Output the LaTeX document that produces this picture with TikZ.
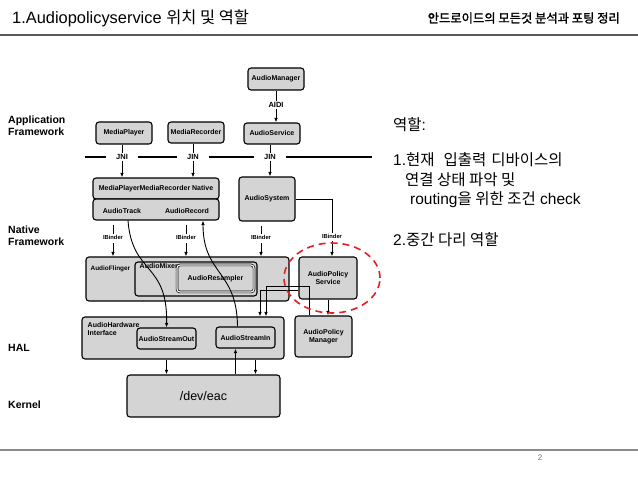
\documentclass[tikz,border=0pt]{standalone}
\usepackage{fontspec}
\setmainfont{Liberation Sans}
\newfontfamily\krfont{Noto Sans CJK KR}
\newfontfamily\krbold{Noto Sans CJK KR}[FakeBold=1.6]
\usetikzlibrary{arrows.meta}
\definecolor{boxgray}{RGB}{212,212,212}
\definecolor{ringred}{RGB}{226,32,38}
\definecolor{rulegray}{RGB}{90,90,90}
\tikzset{
  blk/.style={draw, line width=1.1pt, rounded corners=3pt, fill=boxgray, inner sep=1pt, align=center,
    font=\fontsize{7}{7.8}\selectfont\bfseries},
  inlbl/.style={inner sep=0.5pt, align=left, font=\fontsize{7}{7.8}\selectfont\bfseries},
  tag/.style={inner sep=1pt, font=\fontsize{7.5}{8}\selectfont\bfseries},
  ibtag/.style={inner sep=1pt, font=\fontsize{5.8}{6}\selectfont\bfseries},
  arr/.style={-{Latex[length=4.5pt,width=3.5pt]}, line width=0.9pt},
  wire/.style={line width=0.9pt},
  bar/.style={line width=1.4pt},
  layer/.style={anchor=west, inner sep=0pt, align=left, font=\fontsize{10.5}{12}\selectfont\bfseries},
  note/.style={anchor=west, inner sep=0pt, font=\fontsize{15.5}{18}\selectfont},
}
\begin{document}
\begin{tikzpicture}[x=1pt, y=-1pt]
\useasboundingbox[fill=white] (0,0) rectangle (638,478);

% header and footer
\node (title) [anchor=west, inner sep=0pt, font=\fontsize{16.4}{19}\selectfont] at (12,18) {1.Audiopolicyservice {\krfont 위치 및 역할}};
\node (book) [anchor=east, inner sep=0pt, font=\krbold\fontsize{12.3}{14}\selectfont] at (620,18) {안드로이드의 모든것 분석과 포팅 정리};
\draw[rulegray, line width=1.5pt] (0,35) -- (638,35);
\draw[black!45, line width=1.5pt] (0,450) -- (638,450);
\node (page) [inner sep=0pt, text=black!55, font=\fontsize{8}{9}\selectfont] at (540,458) {2};

% layers
\node (app) [layer] at (8,126) {Application\\Framework};
\node (nat) [layer] at (8,236) {Native\\Framework};
\node (hal) [layer] at (8,348) {HAL};
\node (ker) [layer] at (8,405) {Kernel};

% java side
\node (mgr) [blk, minimum width=56pt, minimum height=22pt] at (276,79) {AudioManager};
\node (aidi) [tag] at (276,105) {AIDI};
\node (svc) [blk, minimum width=56pt, minimum height=21pt] at (272,133.5) {AudioService};
\node (player) [blk, minimum width=56pt, minimum height=22pt] at (124,133) {MediaPlayer};
\node (recorder) [blk, minimum width=56pt, minimum height=21pt] at (196,132.5) {MediaRecorder};

\draw[wire] (mgr.south) -- (aidi.north);
\draw[arr] (aidi.south) -- (aidi.south |- svc.north);

% jni bar
\coordinate (barL) at (85,157);
\coordinate (barR) at (372,157);
\node (jni) [tag] at (122,157) {JNI};
\node (jin1) [tag] at (193,157) {JIN};
\node (jin2) [tag] at (270,157) {JIN};
\draw[bar] (barL) -- ([xshift=-9pt]jni.west);
\draw[bar] ([xshift=9pt]jni.east) -- ([xshift=-9pt]jin1.west);
\draw[bar] ([xshift=9pt]jin1.east) -- ([xshift=-9pt]jin2.west);
\draw[bar] ([xshift=9pt]jin2.east) -- (barR);

% native side
\node (native) [blk, minimum width=126pt, minimum height=21pt] at (156,188.5) {MediaPlayerMediaRecorder Native};
\node (trk) [blk, minimum width=126pt, minimum height=21pt] at (156,209.5) {};
\node (tracklbl) [inlbl] at (122,211) {AudioTrack};
\node (reclbl) [inlbl] at (187,211) {AudioRecord};
\node (asys) [blk, minimum width=56pt, minimum height=44pt] at (267,199) {AudioSystem};

\draw[wire] (jni.north |- player.south) -- (jni.north);
\draw[wire] (jin1.north |- recorder.south) -- (jin1.north);
\draw[wire] (jin2.north |- svc.south) -- (jin2.north);
\draw[arr] (jni.south) -- (jni.south |- native.north);
\draw[arr] (jin1.south) -- (jin1.south |- native.north);
\draw[arr] (jin2.south) -- (jin2.south |- asys.north);

% binder row
\node (ib1) [ibtag] at (113,237) {IBinder};
\node (ib2) [ibtag] at (186,237) {IBinder};
\node (ib3) [ibtag] at (261,237) {IBinder};
\node (ib4) [ibtag] at (332,236) {IBinder};

\node (flinger) [blk, minimum width=203pt, minimum height=44pt] at (187.5,279) {};
\node (flingerlbl) [inlbl, anchor=west, font=\fontsize{6.4}{7}\selectfont\bfseries] at (90,269) {AudioFlinger};
\node (mixer) [blk, minimum width=122pt, minimum height=34pt] at (196,279) {};
\node (mixerlbl) [inlbl, anchor=north west] at (139,263) {AudioMixer};
\node (resamp) [blk, line width=0.7pt, double, double distance=1.1pt, minimum width=77pt, minimum height=27pt] at (215.5,278.5) {AudioResampler};
\node (aps) [blk, minimum width=58pt, minimum height=42pt] at (328,278) {AudioPolicy\\Service};
\node (apm) [blk, minimum width=57pt, minimum height=41pt] at (323.5,336.5) {AudioPolicy\\Manager};

\draw[wire, shorten <=4pt] (ib1.north |- trk.south) -- (ib1.north);
\draw[wire, shorten <=4pt] (ib2.north |- trk.south) -- (ib2.north);
\draw[wire, shorten <=4pt] (ib3.north |- asys.south) -- (ib3.north);
\draw[wire] (asys.east) -| (ib4.north);
\draw[arr, shorten <=3pt] (ib1.south) -- (ib1.south |- flinger.north);
\draw[arr, shorten <=3pt] (ib2.south) -- (ib2.south |- flinger.north);
\draw[arr, shorten <=3pt] (ib3.south) -- (ib3.south |- flinger.north);
\draw[arr, shorten <=2pt] (ib4.south) -- (ib4.south |- aps.north);

% hal and kernel
\node (hw) [blk, minimum width=202pt, minimum height=42pt] at (183,338) {};
\node (hwlbl) [inlbl, anchor=north west] at (87,322) {AudioHardware\\Interface};
\node (sout) [blk, minimum width=59pt, minimum height=21pt] at (166.5,338.5) {AudioStreamOut};
\node (sin) [blk, minimum width=59pt, minimum height=21pt] at (245.5,337.5) {AudioStreamIn};
\node (dev) [blk, minimum width=153pt, minimum height=42pt, font=\fontsize{12.5}{14}\selectfont] at (203.5,396) {/dev/eac};

\draw[arr] (aps.south) -- (aps.south |- apm.north);
\coordinate (dropA) at (260,290);
\coordinate (dropB) at (266,286);
\coordinate (mgrtap) at (309,286);
\draw[arr] (aps.west |- dropA) -- (dropA) -- (dropA |- hw.north);
\draw[arr] (mgrtap |- apm.north) -- (mgrtap) -- (dropB) -- (dropB |- hw.north);

\draw[arr] (hw.south -| sout) -- (dev.north -| sout);
\draw[arr] ([xshift=10pt]sin.south |- hw.south) -- ([xshift=10pt]sin.south |- dev.north);
\draw[arr] ([xshift=-10pt]sin.south |- dev.north) -- ([xshift=-10pt]sin.south);

% data paths
\draw[arr] ([xshift=6pt]tracklbl.south |- trk.south) .. controls (132,275) and (168,262) .. (sout.north);
\draw[arr] ([xshift=-8pt]sin.north) .. controls (237,270) and (203,275) .. ([xshift=16pt]reclbl.south |- trk.south);

% highlight
\draw[ringred, line width=1.6pt, dash pattern=on 7pt off 5pt] (332,278) ellipse [x radius=48pt, y radius=35pt];

% role text
\node (role) [note] at (393,125) {{\krfont 역할}:};
\node (pt1) [note] at (393,160) {1.{\krfont 현재\hspace{9pt}입출력\hspace{5pt}디바이스의}};
\node (pt1b) [note] at (405,180) {\krfont 연결 상태 파악 및};
\node (pt1c) [note] at (410,200) {routing{\krfont 을 위한 조건} check};
\node (pt2) [note] at (393,240) {2.{\krfont 중간 다리 역할}};
\end{tikzpicture}
\end{document}
